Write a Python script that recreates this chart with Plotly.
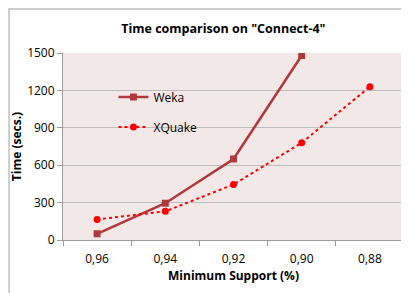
import plotly.graph_objects as go

categories = ["0,96", "0,94", "0,92", "0,90", "0,88"]
weka = [50, 295, 650, 1480]
xquake = [165, 230, 445, 780, 1230]
y_ticks = [0, 300, 600, 900, 1200, 1500]

FONT = "Open Sans"
fig = go.Figure()
fig.add_trace(go.Scatter(
    x=list(range(len(weka))), y=weka, name="Weka", mode="lines+markers", legendgroup="a",
    line=dict(color="#B0393B", width=2.5),
    marker=dict(symbol="square", size=7, color="#B0393B")))
fig.add_trace(go.Scatter(
    x=list(range(len(xquake))), y=xquake, name="XQuake", mode="lines+markers", legendgroup="b",
    line=dict(color="#FF0000", width=2, dash="dot"),
    marker=dict(symbol="circle", size=7, color="#FF0000")))

# page body has an 8px default margin, so the figure is shrunk by 8px
fig.update_layout(
    width=401, height=285,
    margin=dict(l=55, r=5, t=45, b=53),
    paper_bgcolor="white", plot_bgcolor="#F3E8E8",
    title=dict(text='<b>Time comparison on "Connect-4"</b>', x=0.537, xanchor="center",
               y=0.926, yanchor="middle", font=dict(family=FONT, size=12.5, color="black")),
    font=dict(family=FONT, size=12, color="black"),
    showlegend=True,
    legend=dict(x=0.148, y=0.842, xanchor="left", yanchor="top", bgcolor="rgba(0,0,0,0)",
                font=dict(family=FONT, size=12), tracegroupgap=11, itemwidth=30),
    xaxis=dict(range=[-0.5, 4.5], tickvals=list(range(len(categories))), ticktext=categories,
               showgrid=False, zeroline=False, showline=True, linecolor="#9A9A9A",
               ticks="", tickfont=dict(size=12), automargin=False, ticklabelstandoff=8,
               minor=dict(tick0=-0.5, dtick=1, ticks="outside", ticklen=5, tickcolor="#9A9A9A"),
               title=dict(text="<b>Minimum Support (%)</b>", font=dict(size=12), standoff=4)),
    yaxis=dict(range=[0, 1500], tickvals=y_ticks, showgrid=True, gridcolor="#BDBDBD",
               zeroline=False, showline=True, linecolor="#9A9A9A", ticks="outside",
               ticklen=5, tickcolor="#9A9A9A", tickfont=dict(size=12), automargin=False,
               title=dict(text="<b>Time (secs.)</b>", font=dict(size=12), standoff=4)),
)
fig.add_shape(type="rect", xref="paper", yref="paper", x0=-0.158, x1=1.1, y0=-0.4, y1=1.235,
              line=dict(color="#CCCCCC", width=2), layer="below")
fig.write_html("out.html")
